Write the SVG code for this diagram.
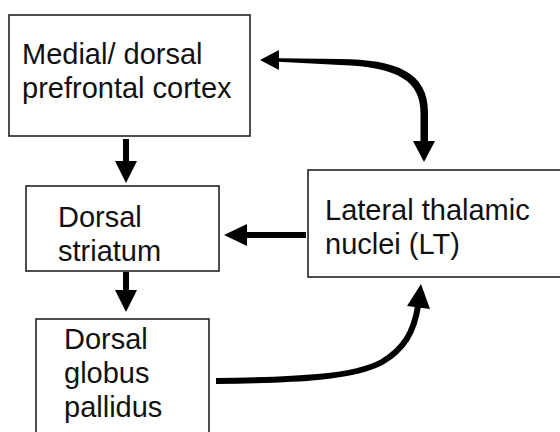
<svg xmlns="http://www.w3.org/2000/svg" width="560" height="432" viewBox="0 0 560 432">
<style>
.box{fill:#fff;stroke:#222;stroke-width:1.6}
.lbl{font-family:"Liberation Sans",Arial,sans-serif;font-size:29px;fill:#111}
.shaft{fill:none;stroke:#000;stroke-width:6}
.head{fill:#000}
</style>
<rect width="560" height="432" fill="#fff"/>
<g id="node-mpfc">
<rect class="box" x="9" y="15" width="241" height="121"/>
<text class="lbl" x="22" y="64">Medial/ dorsal</text>
<text class="lbl" x="22" y="98">prefrontal cortex</text>
</g>
<g id="node-striatum">
<rect class="box" x="26" y="186" width="193" height="85"/>
<text class="lbl" x="58" y="227">Dorsal</text>
<text class="lbl" x="58" y="261">striatum</text>
</g>
<g id="node-gp">
<rect class="box" x="36" y="319" width="173" height="130"/>
<text class="lbl" x="64" y="349">Dorsal</text>
<text class="lbl" x="64" y="383">globus</text>
<text class="lbl" x="64" y="417">pallidus</text>
</g>
<g id="node-lt">
<rect class="box" x="308" y="170" width="270" height="107"/>
<text class="lbl" x="325" y="220">Lateral thalamic</text>
<text class="lbl" x="325" y="254">nuclei (LT)</text>
</g>
<g id="connectors">
<!-- mPFC -> striatum -->
<line class="shaft" x1="126" y1="139" x2="126" y2="163"/>
<polygon class="head" points="115,161 137,161 126,183"/>
<!-- striatum -> GP -->
<line class="shaft" x1="126" y1="272" x2="126" y2="292"/>
<polygon class="head" points="115,290 137,290 126,312"/>
<!-- LT -> striatum -->
<line class="shaft" x1="306" y1="235" x2="245" y2="235"/>
<polygon class="head" points="247,224 247,246 224,235"/>
<!-- mPFC <-> LT -->
<path class="head" d="M 278 58.3 L 340 59 C 396 59.5 428 72 428 112 L 428 143 L 420.5 143 L 420.5 113 C 420.5 82 400 67 340 65 L 278 61.7 Z"/>
<polygon class="head" points="279,50 279,70 260,60"/>
<polygon class="head" points="413,141 435,141 424,162"/>
<!-- GP -> LT -->
<path class="shaft" d="M 216 381 C 300 380 355 377 382 362 C 404 349 414 332 418 306"/>
<polygon class="head" points="407,306 430,309 421,284"/>
</g>
</svg>
